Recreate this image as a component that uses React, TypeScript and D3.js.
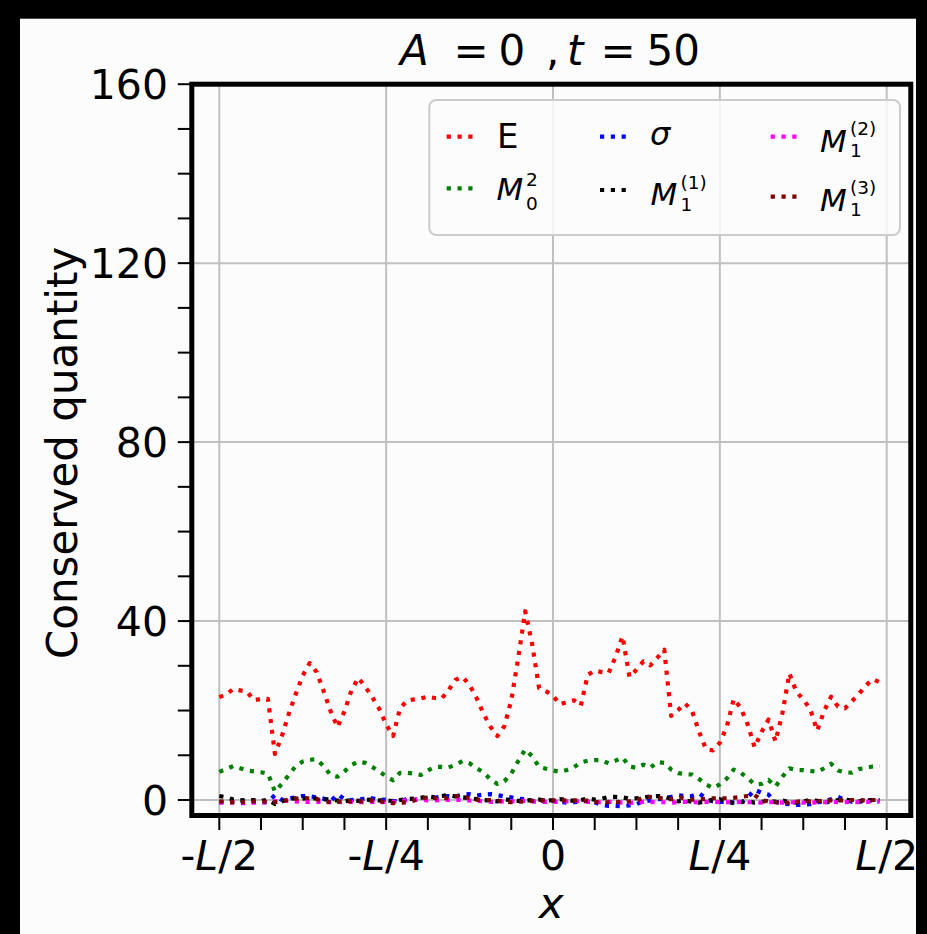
import React, { useEffect } from 'react';
import * as d3 from 'd3';

// ---------- data ----------
const N_POINTS = 96;
// sample positions in units of L (from -L/2, step L/96)
const X_GRID: number[] = d3.range(N_POINTS).map((i) => -0.5 + i / N_POINTS);

const E_VALUES = [
  23.0, 23.6, 24.8, 24.5, 24.2, 22.3, 22.6, 22.6, 10.3, 14.3,
  19.3, 23.7, 27.8, 30.6, 28.6, 24.4, 19.9, 16.3, 19.8, 24.5,
  27.3, 25.3, 23.0, 20.4, 16.9, 14.3, 20.5, 22.2, 22.5, 22.7,
  23.1, 22.8, 22.7, 24.6, 26.9, 27.5, 25.7, 22.8, 19.3, 16.4,
  14.3, 16.5, 22.3, 31.8, 42.2, 34.9, 25.0, 24.3, 23.3, 21.4,
  21.9, 22.3, 21.1, 28.0, 28.9, 28.6, 28.4, 32.0, 36.6, 27.5,
  29.1, 31.0, 30.1, 31.8, 33.6, 18.8, 20.1, 21.6, 19.9, 15.3,
  11.4, 11.1, 12.8, 16.4, 22.6, 20.6, 16.9, 11.8, 15.2, 18.0,
  13.1, 19.4, 28.3, 24.2, 22.5, 20.3, 15.5, 19.9, 23.1, 20.9,
  20.5, 22.1, 23.7, 25.6, 27.0, 26.3,
];

const M0SQ_VALUES = [
  6.3, 6.9, 7.6, 7.1, 6.6, 6.4, 6.2, 5.9, 1.9, 3.6,
  5.6, 7.6, 8.6, 9.0, 9.1, 7.6, 5.6, 5.2, 6.4, 7.8,
  8.6, 8.3, 7.4, 6.4, 5.3, 4.4, 6.1, 6.1, 5.9, 5.6,
  6.6, 7.4, 7.4, 7.3, 7.9, 8.7, 8.2, 7.1, 6.2, 4.6,
  3.6, 4.2, 5.9, 8.7, 11.3, 9.8, 7.4, 7.0, 6.6, 6.3,
  6.7, 7.3, 8.4, 8.8, 8.9, 8.9, 8.2, 8.8, 9.5, 7.5,
  7.2, 7.9, 7.2, 8.5, 8.3, 6.8, 6.0, 5.8, 5.7, 4.7,
  3.5, 2.7, 3.5, 4.8, 6.8, 6.1, 4.9, 3.5, 3.6, 4.5,
  3.0, 5.2, 7.1, 6.7, 6.7, 6.5, 6.3, 7.1, 8.1, 6.6,
  6.2, 6.1, 6.9, 7.2, 7.5, 7.6,
];

const SIGMA_VALUES = [
  -0.5, -0.5, -0.3, -0.2, -0.3, -0.4, -0.5, -0.4, 1.1, 0.0,
  0.3, 0.6, 0.9, 0.8, 0.6, 0.3, -0.3, 1.3, 0.2, 0.0,
  0.2, 0.3, 0.4, 0.0, 0.1, -0.2, -0.4, 0.3, 0.0, 0.3,
  0.5, 0.5, 0.8, 0.9, 0.8, 1.2, 1.3, 1.0, 1.2, 1.3,
  1.1, 0.8, 0.6, 0.3, 0.2, -0.2, -0.4, 0.0, -0.2, -0.4,
  -0.6, -0.5, -0.3, -0.2, -0.5, -1.1, -1.3, -1.3, -1.4, -1.2,
  -0.9, -0.3, -0.1, 0.1, 0.4, 0.7, 1.1, 0.9, 0.9, 1.5,
  0.4, -0.3, -0.4, -0.4, -0.6, -0.7, 0.6, 2.3, 1.6, 1.2,
  -0.4, -0.8, -0.9, -1.1, -1.1, -0.9, -0.5, -0.4, 0.2, 0.7,
  0.0, -0.4, -0.3, -0.2, 0.0, 0.2,
];

const M1_1_VALUES = [
  0.9, 0.6, 0.1, -0.1, 0.0, 0.0, -0.2, 0.1, -0.9, -0.3,
  0.2, 0.4, 0.3, 0.5, 0.3, 0.2, 0.1, -0.1, -0.3, 0.0,
  -0.2, 0.0, 0.1, -0.1, 0.0, -0.3, 0.0, 0.2, 0.3, 0.5,
  0.8, 0.6, 0.9, 1.1, 0.8, 0.6, 0.4, 0.2, 0.0, -0.1,
  -0.3, 0.1, 0.0, -0.2, -0.1, 0.0, 0.1, -0.1, 0.0, 0.2,
  0.0, -0.2, 0.0, 0.3, 0.1, 0.3, 0.7, 0.7, 0.6, 0.3,
  0.4, 0.5, 0.8, 0.9, 0.8, 0.2, -0.3, -0.1, -0.4, -0.6,
  -0.2, 0.0, 0.2, -0.3, -0.7, -0.5, -0.2, -0.6, -0.4, -0.2,
  -0.4, -0.1, -0.5, -0.6, -0.3, 0.0, -0.2, -0.5, -0.4, 0.0,
  0.1, -0.2, -0.4, -0.1, 0.0, 0.0,
];

const M1_2_VALUES = [
  -0.6, -0.6, -0.6, -0.7, -0.7, -0.6, -0.6, -0.5, -0.3, -0.2,
  -0.2, -0.3, -0.4, -0.4, -0.4, -0.4, -0.5, -0.4, -0.5, -0.4,
  -0.5, -0.5, -0.4, -0.5, -0.4, -0.4, -0.3, 0.0, 0.1, 0.1,
  -0.1, -0.1, 0.0, 0.0, 0.0, 0.0, -0.1, -0.2, -0.3, -0.4,
  -0.4, -0.3, -0.3, -0.3, -0.2, -0.3, -0.4, -0.4, -0.4, -0.4,
  -0.3, -0.2, -0.3, -0.4, -0.5, -0.5, -0.4, -0.5, -0.6, -0.7,
  -0.5, -0.4, -0.4, -0.5, -0.5, -0.6, -0.5, -0.4, -0.5, -0.5,
  -0.4, -0.4, -0.5, -0.5, -0.5, -0.4, -0.5, -0.5, -0.6, -0.5,
  -0.5, -0.6, -0.5, -0.5, -0.6, -0.6, -0.5, -0.5, -0.4, -0.5,
  -0.5, -0.4, -0.5, -0.4, -0.4, -0.3,
];

const M1_3_VALUES = [
  -0.3, -0.4, -0.5, -0.5, -0.4, -0.3, -0.2, -0.5, -0.5, -0.3,
  0.1, 0.3, 0.4, 0.4, 0.2, -0.2, -0.5, -0.4, -0.2, -0.3,
  -0.3, -0.2, -0.1, -0.3, -0.5, -0.7, -0.6, -0.5, -0.1, 0.4,
  0.6, 0.4, 0.4, 0.5, 0.9, 0.7, 0.5, 0.1, 0.0, 0.0,
  -0.1, -0.3, -0.5, -0.4, -0.3, -0.2, -0.1, -0.1, -0.1, -0.1,
  -0.1, -0.1, -0.1, -0.2, -0.4, -0.5, -0.5, -0.4, -0.5, -0.3,
  -0.1, 0.5, 0.7, 0.6, 0.2, 0.2, 0.7, 0.3, 0.1, 0.1,
  0.3, 0.4, 0.4, 0.4, 0.5, 0.7, 0.9, 1.1, 0.0, -0.3,
  -0.5, -0.7, -0.6, -0.4, -0.2, -0.3, -0.3, -0.1, -0.1, -0.1,
  -0.1, 0.0, 0.0, -0.1, 0.0, 0.0,
];

const SERIES_VALUES = [E_VALUES, M0SQ_VALUES, SIGMA_VALUES, M1_1_VALUES, M1_2_VALUES, M1_3_VALUES];
const SERIES_COLORS = ['#ff0000', '#008000', '#0000ff', '#000000', '#ff00ff', '#800000'];

const X_TICKS = [-0.5, -0.25, 0, 0.25, 0.5];
const X_TICK_LABELS: { pre: string; it: string; post: string }[] = [
  { pre: '-', it: 'L', post: '/2' },
  { pre: '-', it: 'L', post: '/4' },
  { pre: '0', it: '', post: '' },
  { pre: '', it: 'L', post: '/4' },
  { pre: '', it: 'L', post: '/2' },
];
const X_MINOR_TICKS = d3.range(-0.5, 0.5001, 1 / 16);
const Y_TICKS = [0, 40, 80, 120, 160];
const Y_MINOR_TICKS = d3.range(0, 160.001, 10);

// ---------- layout ----------
const W = 927;
const H = 934;
const AX_L = 191.8;
const AX_R = 910.8;
const AX_T = 84.2;
const AX_B = 815.5;
const FONT = "'DejaVu Sans', sans-serif";

const x = d3.scaleLinear().domain([-0.5412, 0.5361]).range([AX_L, AX_R]);
const y = d3.scaleLinear().domain([-3.46, 160]).range([AX_B, AX_T]);

const lineGen = d3
  .line<number>()
  .x((_, i) => x(X_GRID[i]))
  .y((d) => y(d));

type LegendEntry = {
  color: string;
  hx: number;
  hy: number;
  tx: number;
  base: number;
  main: string;
  italic: boolean;
  size: number;
  sub?: string;
  subBase?: number;
  sup?: string;
  supBase?: number;
  scriptX?: number;
};

const LEGEND: LegendEntry[] = [
  { color: SERIES_COLORS[0], hx: 446.7, hy: 136.7, tx: 497, base: 148.3, main: 'E', italic: false, size: 34 },
  { color: SERIES_COLORS[1], hx: 446.7, hy: 188.3, tx: 496.5, base: 200, main: 'M', italic: true, size: 31, sub: '0', subBase: 210, sup: '2', supBase: 185.5, scriptX: 526 },
  { color: SERIES_COLORS[2], hx: 600, hy: 136.7, tx: 650, base: 145, main: 'σ', italic: true, size: 32 },
  { color: SERIES_COLORS[3], hx: 600, hy: 190, tx: 650.5, base: 205, main: 'M', italic: true, size: 31, sub: '1', subBase: 210.5, sup: '(1)', supBase: 188.5, scriptX: 680.5 },
  { color: SERIES_COLORS[4], hx: 770.7, hy: 136.7, tx: 820, base: 151.7, main: 'M', italic: true, size: 31, sub: '1', subBase: 157.2, sup: '(2)', supBase: 135.2, scriptX: 850 },
  { color: SERIES_COLORS[5], hx: 770.7, hy: 196.7, tx: 820, base: 210.7, main: 'M', italic: true, size: 31, sub: '1', subBase: 216.2, sup: '(3)', supBase: 194.2, scriptX: 850 },
];

const SCRIPT_SIZE = 18.5;
const DASH = '4.2 6.6';
const LW = 4.2;

export default function App() {
  useEffect(() => {
    document.body.style.margin = '0';
    document.body.style.overflow = 'hidden';
  }, []);

  return (
    <svg
      width={W}
      height={H}
      viewBox={`0 0 ${W} ${H}`}
      style={{ position: 'absolute', left: 0, top: 0, display: 'block' }}
      fontFamily={FONT}
    >
      <rect x={0} y={0} width={W} height={H} fill="#000" />
      <rect x={20} y={18.7} width={896} height={H - 18.7} fill="#fcfcfc" />

      {/* grid */}
      <g stroke="#c0c0c0" strokeWidth={2}>
        {X_TICKS.map((t) => (
          <line key={'gx' + t} x1={x(t)} x2={x(t)} y1={AX_T} y2={AX_B} />
        ))}
        {Y_TICKS.map((t) => (
          <line key={'gy' + t} x1={AX_L} x2={AX_R} y1={y(t)} y2={y(t)} />
        ))}
      </g>

      {/* series */}
      <g fill="none">
        {SERIES_VALUES.map((vals, i) => (
          <path
            key={'s' + i}
            d={lineGen(vals) || ''}
            stroke={SERIES_COLORS[i]}
            strokeWidth={LW}
            strokeDasharray={DASH}
            strokeLinecap="butt"
            strokeLinejoin="round"
          />
        ))}
      </g>

      {/* ticks */}
      <g stroke="#000" strokeWidth={2}>
        {X_MINOR_TICKS.map((t) => (
          <line key={'xt' + t} x1={x(t)} x2={x(t)} y1={AX_B} y2={AX_B + 14.5} />
        ))}
        {Y_MINOR_TICKS.map((t) => (
          <line key={'yt' + t} x1={AX_L} x2={AX_L - 14} y1={y(t)} y2={y(t)} />
        ))}
      </g>

      {/* spines */}
      <rect
        x={AX_L}
        y={AX_T}
        width={AX_R - AX_L}
        height={AX_B - AX_T}
        fill="none"
        stroke="#000"
        strokeWidth={5}
      />

      {/* y tick labels */}
      <g fontSize={41} fill="#000" textAnchor="end">
        {Y_TICKS.map((t) => (
          <text key={'yl' + t} x={168} y={y(t) + 14.5}>
            {t}
          </text>
        ))}
      </g>

      {/* x tick labels */}
      <g fontSize={41} fill="#000" textAnchor="middle">
        {X_TICKS.map((t, i) => {
          const lab = X_TICK_LABELS[i];
          return (
            <text key={'xl' + t} x={x(t)} y={870}>
              {lab.pre && <tspan>{lab.pre}</tspan>}
              {lab.it && <tspan fontStyle="italic">{lab.it}</tspan>}
              {lab.post && <tspan>{lab.post}</tspan>}
            </text>
          );
        })}
      </g>

      {/* axis labels */}
      <text
        x={0}
        y={0}
        transform={`translate(76.5, ${(AX_T + AX_B) / 2 + 3}) rotate(-90)`}
        textAnchor="middle"
        fontSize={42}
        fill="#000"
      >
        Conserved quantity
      </text>
      <text x={(AX_L + AX_R) / 2} y={918} textAnchor="middle" fontSize={42} fontStyle="italic" fill="#000">
        x
      </text>

      {/* title */}
      <text fontSize={42} fill="#000" y={64.7}>
        <tspan x={400} fontStyle="italic">A</tspan>
        <tspan x={453.5}>=</tspan>
        <tspan x={498.5}>0</tspan>
        <tspan x={546}>,</tspan>
        <tspan x={567} fontStyle="italic">t</tspan>
        <tspan x={600.5}>=</tspan>
        <tspan x={646.5}>50</tspan>
      </text>

      {/* legend */}
      <rect
        x={429.3}
        y={100}
        width={470.7}
        height={135}
        rx={7}
        ry={7}
        fill="#fcfcfc"
        fillOpacity={0.85}
        stroke="#cccccc"
        strokeWidth={2}
      />
      {LEGEND.map((e, i) => (
        <g key={'lg' + i}>
          <line
            x1={e.hx}
            x2={e.hx + 30}
            y1={e.hy}
            y2={e.hy}
            stroke={e.color}
            strokeWidth={LW}
            strokeDasharray={DASH}
          />
          <text fill="#000">
            <tspan x={e.tx} y={e.base} fontSize={e.size} fontStyle={e.italic ? 'italic' : 'normal'}>
              {e.main}
            </tspan>
            {e.sub && (
              <tspan x={e.scriptX} y={e.subBase} fontSize={SCRIPT_SIZE}>
                {e.sub}
              </tspan>
            )}
            {e.sup && (
              <tspan x={e.scriptX} y={e.supBase} fontSize={SCRIPT_SIZE}>
                {e.sup}
              </tspan>
            )}
          </text>
        </g>
      ))}
    </svg>
  );
}
